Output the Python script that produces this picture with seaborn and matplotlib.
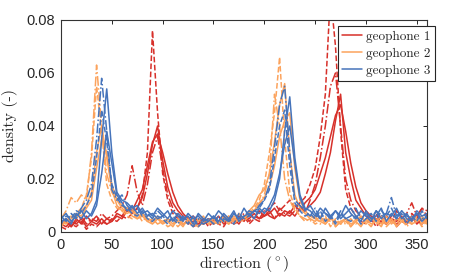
import numpy as np
import pandas as pd
import matplotlib
matplotlib.use("Agg")
import matplotlib.pyplot as plt
import seaborn as sns

# direction grid (degrees)
direction = np.arange(0, 361, 5)

# densities in units of 1e-3
g1_solid_a = [3,4,2,5,3,6,4,3,5,3, 4,6,5,8,7,9,13,22,33,40, 27,17,11,8,6,4,5,3,4,5,
              3,4,6,4,5,3,6,5,7,5, 6,8,5,7,6,8,6,9,8,10, 12,15,22,30,42,52,30,20,12,9,
              6,5,4,6,3,5,4,6,3,5,4,3,5]
g1_solid_b = [3,2,4,3,5,2,4,6,3,5, 4,7,6,9,8,12,16,25,34,37, 30,22,15,10,7,5,6,4,3,5,
              4,6,3,5,4,6,4,7,5,8, 6,7,9,6,8,7,10,8,11,13, 16,22,28,36,44,48,38,26,17,11,
              8,6,5,4,6,4,3,5,4,6,3,5,4]
g1_dashed = [2,1,3,2,4,1,3,2,4,3, 5,4,6,5,7,9,14,30,76,45, 22,12,7,5,3,4,2,3,5,2,
             4,3,2,5,3,4,6,3,5,4, 7,9,11,8,10,12,9,11,13,18, 24,36,52,90,70,38,16,9,6,4,
             3,5,2,4,3,6,2,4,3,7,5,9,8]
g1_dashdot = [3,5,2,4,6,3,5,4,7,5, 6,8,10,14,25,15,10,18,30,36, 24,14,9,6,5,3,4,6,3,4,
              5,3,6,4,3,5,7,4,6,5, 8,6,5,9,7,6,8,10,7,12, 18,28,40,55,60,40,20,12,8,6,
              5,4,7,3,6,4,8,5,7,11,6,9,6]

g2_dashdot = [5,8,13,11,14,12,30,63,40,22, 15,12,10,8,9,6,7,5,4,6, 3,5,4,2,4,3,5,2,4,3,
              5,3,4,6,3,5,4,6,8,10, 14,22,52,40,20,12,8,6,5,4, 6,3,5,4,2,4,3,5,3,6,
              4,2,5,3,6,4,3,5,2,4,6,3,5]
g2_dashed = [3,5,4,7,9,14,28,55,38,18, 12,9,8,6,5,7,4,6,3,5, 4,2,3,5,3,4,2,5,3,4,
             3,5,4,3,6,4,5,7,9,12, 18,30,45,66,35,15,9,6,4,5, 3,4,6,2,5,3,4,2,5,3,
             4,6,3,5,2,4,3,6,4,3,5,2,4]
g2_solid_a = [2,4,6,5,8,10,15,30,40,28, 16,10,8,9,6,5,7,4,5,3, 4,5,3,4,2,5,3,4,6,3,
              4,3,5,6,4,7,5,8,10,14, 16,22,34,48,56,30,14,9,7,5, 4,6,3,5,4,3,5,2,4,6,
              3,5,4,2,6,3,5,4,3,6,4,5,3]
g2_solid_b = [4,3,5,7,6,9,12,24,35,30, 18,12,9,7,8,5,6,4,3,5, 3,4,2,5,3,4,3,2,4,5,
              3,4,6,3,5,4,6,7,8,11, 13,17,25,36,42,45,24,12,8,6, 5,4,3,6,2,4,5,3,4,2,
              5,3,4,6,3,5,2,4,5,3,4,6,4]

g3_dashdot = [6,4,7,5,9,12,18,35,58,38, 16,12,14,10,8,9,6,7,5,8, 6,4,5,3,6,4,2,5,3,4,
              6,3,5,4,7,5,6,8,7,10, 12,18,32,48,55,30,12,10,8,6, 9,5,7,6,4,8,5,6,9,5,
              7,5,8,6,7,13,6,8,5,4,7,5,6]
g3_solid_a = [5,7,4,6,8,5,7,12,35,54, 30,15,12,11,9,10,7,8,6,9, 7,5,8,6,4,7,5,6,4,7,
              5,8,6,4,7,5,9,6,8,7, 9,8,12,20,38,51,28,14,9,8, 6,9,7,5,8,6,10,7,5,8,
              6,4,8,5,7,6,9,5,7,4,8,6,7]
g3_dashed = [3,6,5,8,7,10,14,28,46,34, 18,13,10,9,7,6,8,5,4,6, 5,3,6,4,5,3,6,2,4,5,
             3,6,4,5,3,7,5,6,8,9, 12,16,28,40,46,25,11,8,6,7, 5,8,4,6,3,7,5,4,6,3,
             5,7,4,8,6,9,5,7,3,6,4,8,5]
g3_solid_b = [4,5,3,7,5,8,6,10,22,38, 26,14,11,8,10,7,9,6,7,5, 6,8,4,7,5,6,3,7,5,4,
              6,4,7,5,8,4,6,7,5,9, 7,10,14,22,33,40,26,13,8,10, 7,5,9,6,8,5,7,9,6,4,
              8,5,6,9,4,7,5,8,6,5,7,4,6]

labels = ["geophone 1", "geophone 2", "geophone 3"]
colors = ["#d7302a", "#fca35d", "#4674bb"]

series = [
    (0, g1_solid_a, "-"), (0, g1_dashed, "--"), (0, g1_dashdot, "-."), (0, g1_solid_b, "-"),
    (1, g2_solid_a, "-"), (1, g2_dashed, "--"), (1, g2_dashdot, "-."), (1, g2_solid_b, "-"),
    (2, g3_solid_a, "-"), (2, g3_dashed, "--"), (2, g3_dashdot, "-."), (2, g3_solid_b, "-"),
]

sns.set_style("white")
plt.rcParams["mathtext.fontset"] = "cm"

fig = plt.figure(figsize=(4.72, 2.75), dpi=100)
ax = fig.add_axes([0.1292, 0.1564, 0.7755, 0.7709])

seen = set()
for g, vals, ls in series:
    y = np.array(vals) / 1000.0
    lab = labels[g] if g not in seen else None
    seen.add(g)
    sns.lineplot(x=direction, y=y, ax=ax, color=colors[g], linestyle=ls,
                 linewidth=1.1, label=lab, legend=False)

ax.set_xlim(0, 360)
ax.set_ylim(0, 0.08)
ax.set_xticks(np.arange(0, 351, 50))
ax.set_yticks([0, 0.02, 0.04, 0.06, 0.08])
ax.set_yticklabels(["0", "0.02", "0.04", "0.06", "0.08"])
ax.tick_params(direction="in", length=3, width=0.7, top=True, right=True,
               labelsize=10.5, colors="#262626", pad=4)
for lab in ax.get_xticklabels() + ax.get_yticklabels():
    lab.set_fontfamily("Liberation Sans")
for sp in ax.spines.values():
    sp.set_visible(True)
    sp.set_color("#333333")
    sp.set_linewidth(0.8)

ax.set_xlabel(r"direction ($^\circ$)", fontfamily="cmr10", fontsize=11.5, labelpad=2)
ax.set_ylabel("density (-)", fontfamily="cmr10", fontsize=11.5, labelpad=6)

handles, labs = ax.get_legend_handles_labels()
leg = ax.legend(handles, labs, loc="upper right",
                bbox_to_anchor=(435 / 472, 1 - 26 / 275), bbox_transform=fig.transFigure,
                prop={"family": "cmr10", "size": 9.5}, frameon=True, fancybox=False,
                edgecolor="#262626", framealpha=1, borderpad=0.35, labelspacing=0.35,
                handlelength=1.5, handletextpad=0.3, borderaxespad=0)
leg.get_frame().set_linewidth(0.8)

fig.savefig("out.png", dpi=100)
